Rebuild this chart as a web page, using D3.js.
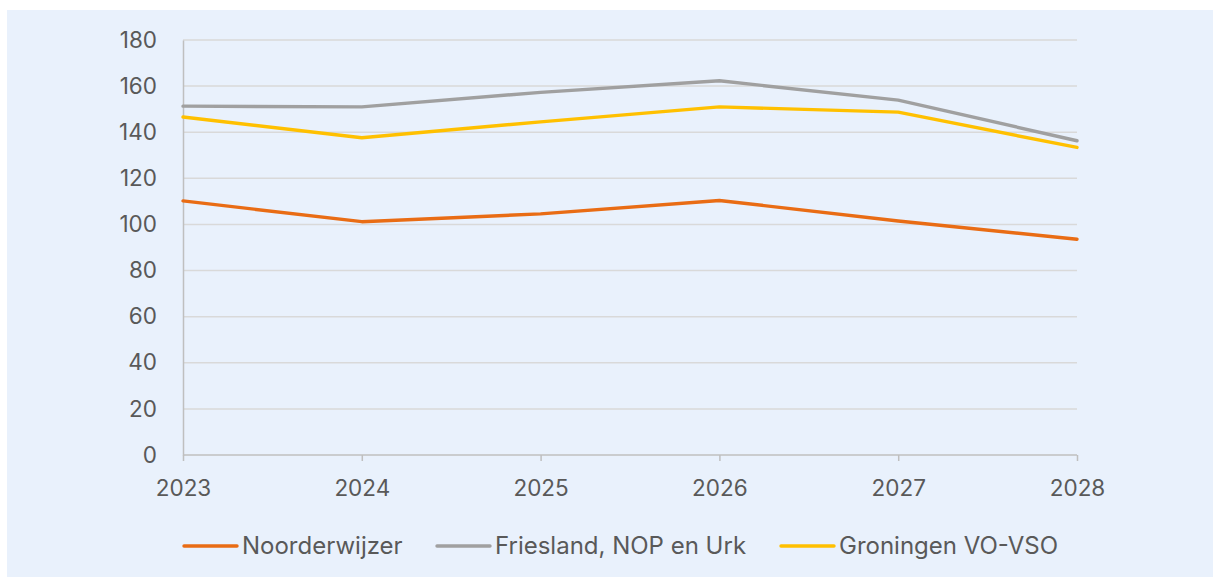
<!DOCTYPE html>
<html>
<head>
<meta charset="utf-8">
<script src="https://cdn.jsdelivr.net/npm/d3@7"></script>
<style>
  html, body { margin: 0; padding: 0; background: #fff; }
  svg { display: block; }
  text { font-family: Inter, "Noto Sans", sans-serif; fill: #595959; }
</style>
</head>
<body>
<div id="chart"></div>
<script>
// line chart, three regions 2023-2028

var years = ["2023", "2024", "2025", "2026", "2027", "2028"];
var noorderwijzer = [110.2, 101.2, 104.6, 110.4, 101.5, 93.6];
var friesland = [151.3, 151.0, 157.3, 162.3, 153.9, 136.3];
var groningen = [146.6, 137.6, 144.5, 151.0, 148.7, 133.4];
var yTicks = [0, 20, 40, 60, 80, 100, 120, 140, 160, 180];

var series = [
    { name: "Noorderwijzer", values: noorderwijzer, color: "#E96C14" },
    { name: "Friesland, NOP en Urk", values: friesland, color: "#A0A0A0" },
    { name: "Groningen VO-VSO", values: groningen, color: "#FFC000" }
];

var width = 1213, height = 577;
var fontSize = "22.5px";
var svg = d3.select("#chart").append("svg")
    .attr("width", width)
    .attr("height", height);

// chart area background
svg.append("rect")
    .attr("x", 7).attr("y", 10)
    .attr("width", width - 7).attr("height", height - 10)
    .attr("fill", "#E9F1FC");

var x = d3.scalePoint().domain(years).range([183, 1077]);
var y = d3.scaleLinear().domain([0, 180]).range([455, 40]);

// gridlines
svg.append("g").selectAll("line")
    .data(yTicks.filter(function(d) { return d > 0; }))
    .enter().append("line")
    .attr("x1", 183).attr("x2", 1077)
    .attr("y1", function(d) { return y(d); })
    .attr("y2", function(d) { return y(d); })
    .attr("stroke", "#D9D9D9")
    .attr("stroke-width", 1.5);

// y axis
var yAxis = svg.append("g")
    .attr("transform", "translate(183,0)")
    .call(d3.axisLeft(y).tickValues(yTicks).tickSize(0).tickPadding(26));
yAxis.select(".domain").attr("stroke", "#BFBFBF").attr("stroke-width", 1.5);
yAxis.selectAll("text")
    .style("font-size", fontSize)
    .attr("fill", "#595959")
    .style("font-family", "Inter, 'Noto Sans', sans-serif");

// x axis
var xAxis = svg.append("g")
    .attr("transform", "translate(0,455)")
    .call(d3.axisBottom(x).tickSize(6).tickPadding(19));
xAxis.select(".domain").attr("stroke", "#BFBFBF").attr("stroke-width", 1.5)
    .attr("d", "M183,0H1077");
xAxis.selectAll(".tick line").attr("stroke", "#BFBFBF").attr("stroke-width", 1.5);
xAxis.selectAll("text")
    .style("font-size", fontSize)
    .attr("fill", "#595959")
    .style("font-family", "Inter, 'Noto Sans', sans-serif");

// lines
var line = d3.line()
    .x(function(d, i) { return x(years[i]); })
    .y(function(d) { return y(d); });

svg.append("g").selectAll("path")
    .data(series)
    .enter().append("path")
    .attr("d", function(s) { return line(s.values); })
    .attr("fill", "none")
    .attr("stroke", function(s) { return s.color; })
    .attr("stroke-width", 3.4)
    .attr("stroke-linejoin", "round")
    .attr("stroke-linecap", "round");

// legend
var legendX = [184, 437, 781];
var legend = svg.append("g").selectAll("g")
    .data(series)
    .enter().append("g")
    .attr("transform", function(d, i) { return "translate(" + legendX[i] + ",546)"; });

legend.append("line")
    .attr("x1", 0).attr("x2", 53)
    .attr("stroke", function(d) { return d.color; })
    .attr("stroke-width", 3.4)
    .attr("stroke-linecap", "round");

legend.append("text")
    .attr("x", 58)
    .attr("dy", "0.35em")
    .style("font-size", "24px")
    .text(function(d) { return d.name; });
</script>
</body>
</html>
